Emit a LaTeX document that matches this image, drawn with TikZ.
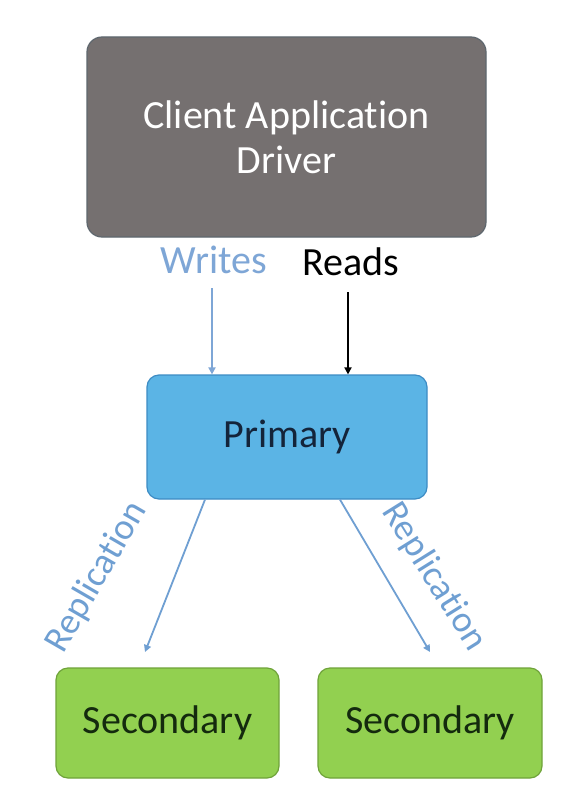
\documentclass[tikz,border=0pt]{standalone}
\usepackage{fontspec}
\setmainfont[Ligatures={NoCommon}]{Carlito}
\usetikzlibrary{arrows.meta}
\definecolor{clientfill}{HTML}{757070}
\definecolor{clientdraw}{HTML}{5E676E}
\definecolor{primfill}{HTML}{5BB4E5}
\definecolor{primdraw}{HTML}{3D8CC4}
\definecolor{primtext}{HTML}{14243A}
\definecolor{secfill}{HTML}{92D050}
\definecolor{secdraw}{HTML}{6FA33A}
\definecolor{sectext}{HTML}{142A0E}
\definecolor{repblue}{HTML}{6F9FD2}
\definecolor{writeblue}{HTML}{7EA6D6}
\tikzset{
  box/.style={draw, line width=1.2pt, rounded corners=15pt, inner sep=0pt, align=center},
  lbl/.style={font=\fontsize{40}{45}\selectfont, inner sep=0pt},
  replbl/.style={font=\fontsize{37}{40}\selectfont, text=repblue, inner sep=0pt},
  arr/.style={line width=1.8pt, -{Triangle[width=7pt,length=7pt]}},
}
\begin{document}
\begin{tikzpicture}[x=1pt,y=-1pt]
\useasboundingbox[fill=white] (0,0) rectangle (586,808);
% boxes
\node[box, fill=clientfill, draw=clientdraw, minimum width=399pt, minimum height=200pt, text=white,
      font=\fontsize{40}{45}\selectfont] (client) at (286.5,137) {Client Application\\Driver};
\node[box, fill=primfill, draw=primdraw, minimum width=280pt, minimum height=124pt, text=primtext,
      font=\fontsize{40}{45}\selectfont, rounded corners=12pt] (primary) at (287,437) {Primary};
\node[box, fill=secfill, draw=secdraw, minimum width=223pt, minimum height=110pt, text=sectext,
      font=\fontsize{40}{45}\selectfont, rounded corners=12pt] (secL) at (167.5,723) {Secondary};
\node[box, fill=secfill, draw=secdraw, minimum width=224pt, minimum height=110pt, text=sectext,
      font=\fontsize{40}{45}\selectfont, rounded corners=12pt] (secR) at (430,723) {Secondary};
% labels
\node[lbl, text=writeblue] (writes) at (214,260) {Writes};
\node[lbl, text=black] (reads) at (351,262) {Reads};
\node[replbl, rotate=60] (repL) at (97,577) {Replication};
\node[replbl, rotate=-58] (repR) at (434,577) {Replication};
% connectors
\coordinate (wtop) at (212,288);
\coordinate (rtop) at (348,292);
\draw[arr, draw=writeblue] (wtop) -- (wtop |- primary.north);
\draw[arr, draw=black] (rtop) -- (rtop |- primary.north);
\coordinate (lstart) at (primary.south -| 205,0);
\coordinate (rstart) at (primary.south -| 340,0);
\coordinate (lend) at (145,652);
\coordinate (rend) at (430,652);
\draw[arr, draw=repblue] (lstart) -- (lend);
\draw[arr, draw=repblue] (rstart) -- (rend);
\end{tikzpicture}
\end{document}
